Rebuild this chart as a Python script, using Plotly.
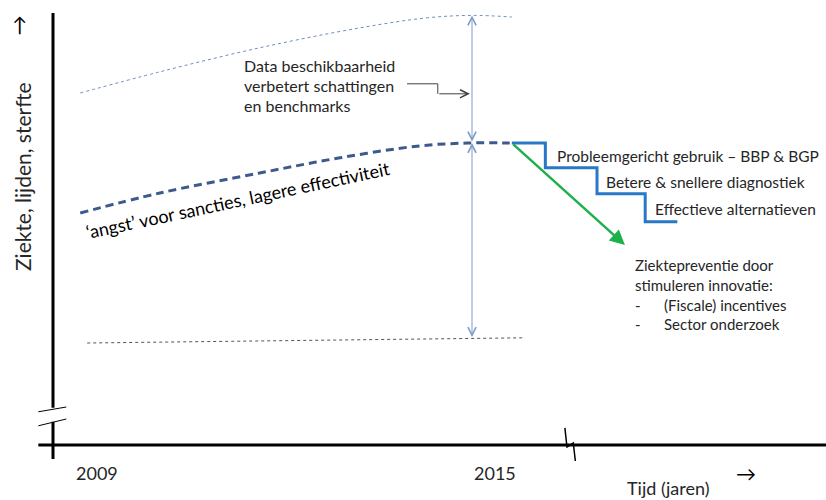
import plotly.graph_objects as go

FONT = "Lato"
TXT = "#262626"

# ---- data (x in years, y in arbitrary units of "ziekte, lijden, sterfte") ----
top_years = [2009.39, 2010.53, 2011.96, 2013.40, 2014.36, 2015.01, 2015.57]
top_vals = [88.0, 93.3, 99.3, 104.3, 106.8, 107.4, 107.0]

mid_years = [2009.39, 2010.53, 2011.96, 2013.11, 2014.26, 2014.97, 2015.54]
mid_vals = [58.0, 63.0, 68.0, 71.8, 74.8, 75.5, 75.5]

low_years = [2009.49, 2015.76]
low_vals = [25.5, 26.8]

step_years = [2015.57, 2016.05, 2016.05, 2016.79, 2016.79, 2017.48, 2017.48, 2017.94]
step_vals = [75.5, 75.5, 69.3, 69.3, 62.8, 62.8, 55.8, 55.8]

green_years = [2015.57, 2017.19]
green_vals = [75.5, 50.0]

gap_year = 2015.0
gap_vals = [107.4, 75.5, 26.6]

elbow_years = [2014.07, 2014.51, 2014.51, 2014.97]
elbow_vals = [90.3, 90.3, 87.8, 87.8]

step_labels = ["Probleemgericht gebruik \u2013 BBP & BGP",
               "Betere & snellere diagnostiek",
               "Effectieve alternatieven"]
step_label_years = [2016.19, 2016.89, 2017.59]
step_label_vals = [72.3, 65.8, 59.0]

data_lines = ["Data beschikbaarheid", "verbetert schattingen", "en benchmarks"]
data_year = 2011.71
data_vals = [95.0, 90.0, 84.8]

prev_lines = ["Ziektepreventie door", "stimuleren innovatie:"]
prev_vals = [45.0, 40.0]
prev_year = 2017.31
bullet_lines = ["(Fiscale) incentives", "Sector onderzoek"]
bullet_vals = [35.0, 30.3]
bullet_year = 2017.72

angst_text = "\u2018angst\u2019 voor sancties, lagere effectiviteit"
angst_pos = (2011.65, 61.2)

tick_labels = ["2009", "2015"]
tick_label_years = [2009.63, 2015.33]
tick_label_val = -7.0

# axes geometry
xaxis_years = [2008.79, 2020.07]
yaxis_year = 2009.0
yaxis_upper = [108.0, 9.3]
yaxis_lower = [5.8, -3.5]
break1 = ([2008.79, 2009.19], [8.3, 9.5])
break2 = ([2008.79, 2009.19], [4.8, 6.5])
xbreak = ([2016.33, 2016.36, 2016.45, 2016.48], [4.3, -0.5, 0.5, -4.0])

X0, X1 = 2008.241, 2020.069
Y0, Y1 = -13.75, 111.25

fig = go.Figure()

def line(x, y, color, width, dash="solid", shape="linear"):
    fig.add_trace(go.Scatter(x=x, y=y, mode="lines",
                             line=dict(color=color, width=width, dash=dash, shape=shape),
                             hoverinfo="skip"))

# axes
line(xaxis_years, [0, 0], "black", 3)
line([yaxis_year, yaxis_year], yaxis_upper, "black", 3)
line([yaxis_year, yaxis_year], yaxis_lower, "black", 3)
line(*break1, "black", 1)
line(*break2, "black", 1)
line(*xbreak, "black", 1.5)

# curves
line(top_years, top_vals, "#6F8CC0", 1, "dot", "spline")
line(low_years, low_vals, "#555555", 1, "dot")
line(mid_years, mid_vals, "#3D5A8C", 3, "8px,5px", "spline")
line(step_years, step_vals, "#2878C8", 3)
line(elbow_years[:3], elbow_vals[:3], "#404040", 1)

ann = []
# vertical double arrows
for a, b in [(gap_vals[0], gap_vals[1]), (gap_vals[1], gap_vals[2])]:
    ann.append(dict(x=gap_year, y=a, ax=gap_year, ay=b, xref="x", yref="y",
                    axref="x", ayref="y", text="", showarrow=True,
                    arrowhead=5, startarrowhead=5, arrowside="end+start",
                    arrowsize=1.6, startarrowsize=1.6, arrowwidth=1, arrowcolor="#7E9BCB"))
# elbow arrow end
ann.append(dict(x=elbow_years[3], y=elbow_vals[3], ax=elbow_years[2], ay=elbow_vals[2],
                xref="x", yref="y", axref="x", ayref="y", text="", showarrow=True,
                arrowhead=5, arrowsize=1.6, arrowwidth=1, arrowcolor="#404040"))
# green arrow
ann.append(dict(x=green_years[1], y=green_vals[1], ax=green_years[0], ay=green_vals[0],
                xref="x", yref="y", axref="x", ayref="y", text="", showarrow=True,
                arrowhead=2, arrowsize=1.2, arrowwidth=2.5, arrowcolor="#1DB04B"))

def text(x, y, s, size=16, xanchor="left", angle=0, color=TXT):
    ann.append(dict(x=x, y=y, xref="x", yref="y", text=s, showarrow=False,
                    xanchor=xanchor, yanchor="middle", textangle=angle,
                    font=dict(family=FONT, size=size, color=color)))

for s, v in zip(data_lines, data_vals):
    text(data_year, v, s, 16)
for s, xx, v in zip(step_labels, step_label_years, step_label_vals):
    text(xx, v, s, 15.5)
for s, v in zip(prev_lines, prev_vals):
    text(prev_year, v, s, 15)
for s, v in zip(bullet_lines, bullet_vals):
    text(prev_year, v, "-", 15)
    text(bullet_year, v, s, 15)
text(angst_pos[0], angst_pos[1], angst_text, 18, "center", -12, "black")
for s, xx in zip(tick_labels, tick_label_years):
    text(xx, tick_label_val, s, 18, "center")
text(2017.82, -10.75, "Tijd (jaren)", 18, "center")
text(2018.92, -7.0, "\u2192", 20, "center", color="black")
text(2008.556, 67.0, "Ziekte, lijden, sterfte", 21, "center", -90)
text(2008.527, 105.3, "\u2191", 20, "center", color="black")

fig.update_layout(
    width=826, height=500, margin=dict(l=0, r=0, t=0, b=0),
    paper_bgcolor="white", plot_bgcolor="white", showlegend=False,
    xaxis=dict(range=[X0, X1], visible=False, fixedrange=True),
    yaxis=dict(range=[Y0, Y1], visible=False, fixedrange=True),
    annotations=ann,
)
fig.write_html("out.html", config={"displayModeBar": False})

# remove default page margin so the figure sits at the window's top-left corner
with open("out.html", encoding="utf-8") as f:
    html = f.read()
html = html.replace("<body>", '<body style="margin:0;overflow:hidden">', 1)
with open("out.html", "w", encoding="utf-8") as f:
    f.write(html)
